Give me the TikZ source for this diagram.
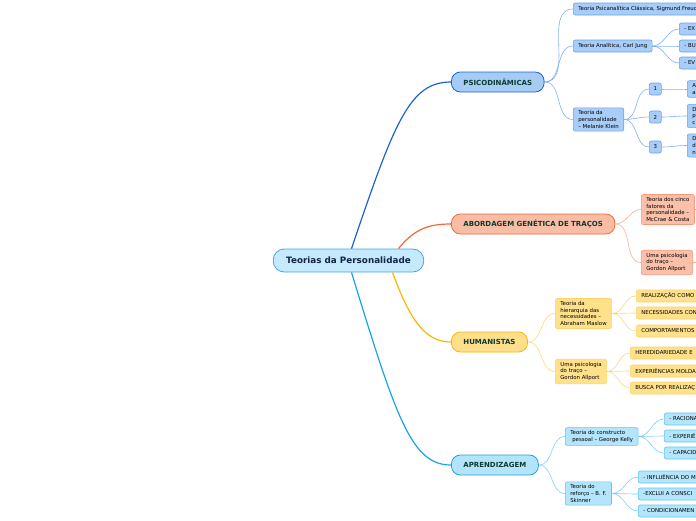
\documentclass[tikz,border=0pt]{standalone}
\usepackage{fontspec}
\setmainfont{DejaVu Sans}
\usetikzlibrary{positioning}
\definecolor{rootfill}{HTML}{C5EAFB}
\definecolor{rootline}{HTML}{4AA3DF}
\definecolor{roottext}{HTML}{14244A}
\definecolor{maintext}{HTML}{0C3B33}
\definecolor{mblue}{HTML}{1B63D3}
\definecolor{mbluefill}{HTML}{A6CBF5}
\definecolor{sbluefill}{HTML}{A8CDF8}
\definecolor{sblue}{HTML}{6AA2EC}
\definecolor{morange}{HTML}{F2683A}
\definecolor{morangefill}{HTML}{F9BDA6}
\definecolor{sorangefill}{HTML}{FAC0A9}
\definecolor{sorange}{HTML}{F69A7A}
\definecolor{myellow}{HTML}{F9B600}
\definecolor{myellowfill}{HTML}{FFDF8A}
\definecolor{syellowfill}{HTML}{FFE08B}
\definecolor{syellow}{HTML}{FFD366}
\definecolor{mcyan}{HTML}{18A3E7}
\definecolor{mcyanfill}{HTML}{B4E4FB}
\definecolor{scyanfill}{HTML}{B3E5FC}
\definecolor{scyan}{HTML}{63C4F2}
\tikzset{root/.style = {draw=rootline, fill=rootfill, text=roottext, line width=0.8pt,
                        rounded corners=11pt, minimum height=23pt, inner xsep=13pt,
                        font=\fontsize{8.8}{10}\selectfont\bfseries}}
\tikzset{main/.style = {line width=0.8pt, text=maintext, rounded corners=9pt, anchor=west,
                        minimum height=20pt, inner xsep=12pt,
                        font=\fontsize{7}{8}\selectfont\bfseries}}
\tikzset{sub/.style = {line width=0.6pt, rounded corners=2pt, anchor=west, align=left,
                       minimum height=12pt, inner xsep=5pt, inner ysep=3pt,
                       font=\fontsize{5.4}{6.6}\selectfont}}
\tikzset{cut/.style = {text width=90pt}}
\tikzset{num/.style = {minimum width=12pt, inner xsep=0pt, align=center}}
\tikzset{bsub/.style = {sub, fill=sbluefill, draw=sblue}}
\tikzset{osub/.style = {sub, fill=sorangefill, draw=sorange}}
\tikzset{ysub/.style = {sub, fill=syellowfill, draw=syellow}}
\tikzset{csub/.style = {sub, fill=scyanfill, draw=scyan}}
\tikzset{blink/.style = {draw=sblue!85, line width=0.6pt}}
\tikzset{olink/.style = {draw=sorange!80, line width=0.6pt}}
\tikzset{ylink/.style = {draw=syellow!90, line width=0.6pt}}
\tikzset{clink/.style = {draw=scyan!80, line width=0.6pt}}

\begin{document}
\begin{tikzpicture}[x=1pt, y=1pt]
    \useasboundingbox (0,0) rectangle (696,-520);
    \clip (0,0) rectangle (696,-520);

    \node [root] (root) at (348.5,-260.5) {Teorias da Personalidade};

    \node [main, fill=mbluefill, draw=mblue] (psico) at (451,-82) {PSICODINÂMICAS};
    \node [main, fill=morangefill, draw=morange] (genet) at (451,-224) {ABORDAGEM GENÉTICA DE TRAÇOS};
    \node [main, fill=myellowfill, draw=myellow] (human) at (451,-342) {HUMANISTAS};
    \node [main, fill=mcyanfill, draw=mcyan] (aprend) at (451,-465) {APRENDIZAGEM};

    \draw [mblue, line width=1.2pt] ([xshift=3pt]root.north) .. controls (395,-120) and (410,-82) .. (psico.west);
    \draw [morange, line width=1.2pt] ([xshift=50pt]root.north) .. controls (415,-228) and (430,-224) .. (genet.west);
    \draw [myellow, line width=1.2pt] ([xshift=44pt]root.south) .. controls (410,-320) and (425,-342) .. (human.west);
    \draw [mcyan, line width=1.2pt] ([xshift=3pt]root.south) .. controls (397,-421) and (412,-465) .. (aprend.west);

    % psicodinamicas
    \node [bsub] (freud) at (573,-9) {Teoria Psicanalítica Clássica, Sigmund Freud};
    \node [bsub] (jung) at (573,-46) {Teoria Analítica, Carl Jung};
    \node [bsub] (klein) at (573,-119.5) {Teoria da\\personalidade\\– Melanie Klein};
    \foreach \n in {freud, jung, klein}
        \draw [blink] (psico.east) to[out=0, in=180] (\n.west);

    \node [bsub, cut] (jung1) at (679,-29) {- EX};
    \node [bsub, cut] (jung2) at (679,-46) {- BU};
    \node [bsub, cut] (jung3) at (679,-63) {- EV};
    \foreach \n in {jung1, jung2, jung3}
        \draw [blink] (jung.east) to[out=0, in=180] (\n.west);

    \node [bsub, num] (klein1) at (649,-89) {1};
    \node [bsub, num] (klein2) at (649,-117) {2};
    \node [bsub, num] (klein3) at (649,-147) {3};
    \foreach \n in {klein1, klein2, klein3}
        \draw [blink] (klein.east) to[out=0, in=180] (\n.west);

    \node [bsub, cut] (kleina) at (687,-89) {A\\a};
    \node [bsub, cut] (kleinb) at (687,-116) {D\\p\\c};
    \node [bsub, cut] (kleinc) at (687,-145.5) {D\\d\\n};
    \draw [blink] (klein1.east) to[out=0, in=180] (kleina.west);
    \draw [blink] (klein2.east) to[out=0, in=180] (kleinb.west);
    \draw [blink] (klein3.east) to[out=0, in=180] (kleinc.west);

    % abordagem genetica
    \node [osub] (costa) at (641,-209.5) {Teoria dos cinco\\fatores da\\personalidade –\\McCrae \& Costa};
    \node [osub] (allport) at (641,-262.5) {Uma psicologia\\do traço –\\Gordon Allport};
    \foreach \n in {costa, allport}
        \draw [olink] (genet.east) to[out=0, in=180] (\n.west);
    \coordinate (costaout) at (720,-210);
    \coordinate (allportout) at (720,-262);
    \draw [olink] (costa.east) -- (costaout);
    \draw [olink] (allport.east) -- (allportout);

    % humanistas
    \node [ysub] (maslow) at (555,-313.5) {Teoria da\\hierarquia das\\necessidades –\\Abraham Maslow};
    \node [ysub] (allport2) at (555,-371.5) {Uma psicologia\\do traço –\\Gordon Allport};
    \foreach \n in {maslow, allport2}
        \draw [ylink] (human.east) to[out=0, in=180] (\n.west);

    \node [ysub, cut] (maslow1) at (636,-296) {REALIZAÇÃO COMO};
    \node [ysub, cut] (maslow2) at (636,-313) {NECESSIDADES CON};
    \node [ysub, cut] (maslow3) at (636,-331) {COMPORTAMENTOS};
    \foreach \n in {maslow1, maslow2, maslow3}
        \draw [ylink] (maslow.east) to[out=0, in=180] (\n.west);

    \node [ysub, cut] (allport21) at (630,-353) {HEREDIDARIEDADE E};
    \node [ysub, cut] (allport22) at (630,-371) {EXPERIÊNCIAS MOLDA};
    \node [ysub, cut] (allport23) at (630,-388) {BUSCA POR REALIZAÇ};
    \foreach \n in {allport21, allport22, allport23}
        \draw [ylink] (allport2.east) to[out=0, in=180] (\n.west);

    % aprendizagem
    \node [csub] (kelly) at (565,-436.5) {Teoria do constructo\\\hspace*{2pt}pessoal – George Kelly};
    \node [csub] (skinner) at (565,-493.5) {Teoria do\\reforço – B. F.\\Skinner};
    \foreach \n in {kelly, skinner}
        \draw [clink] (aprend.east) to[out=0, in=180] (\n.west);

    \node [csub, cut] (kelly1) at (664,-419) {- RACIONA};
    \node [csub, cut] (kelly2) at (664,-436) {- EXPERIÊ};
    \node [csub, cut] (kelly3) at (664,-453) {- CAPACID};
    \foreach \n in {kelly1, kelly2, kelly3}
        \draw [clink] (kelly.east) to[out=0, in=180] (\n.west);

    \node [csub, cut] (skinner1) at (638,-477) {- INFLUÊNCIA DO M};
    \node [csub, cut] (skinner2) at (638,-494) {-EXCLUI A CONSCI};
    \node [csub, cut] (skinner3) at (638,-511) {- CONDICIONAMEN};
    \foreach \n in {skinner1, skinner2, skinner3}
        \draw [clink] (skinner.east) to[out=0, in=180] (\n.west);
\end{tikzpicture}
\end{document}
